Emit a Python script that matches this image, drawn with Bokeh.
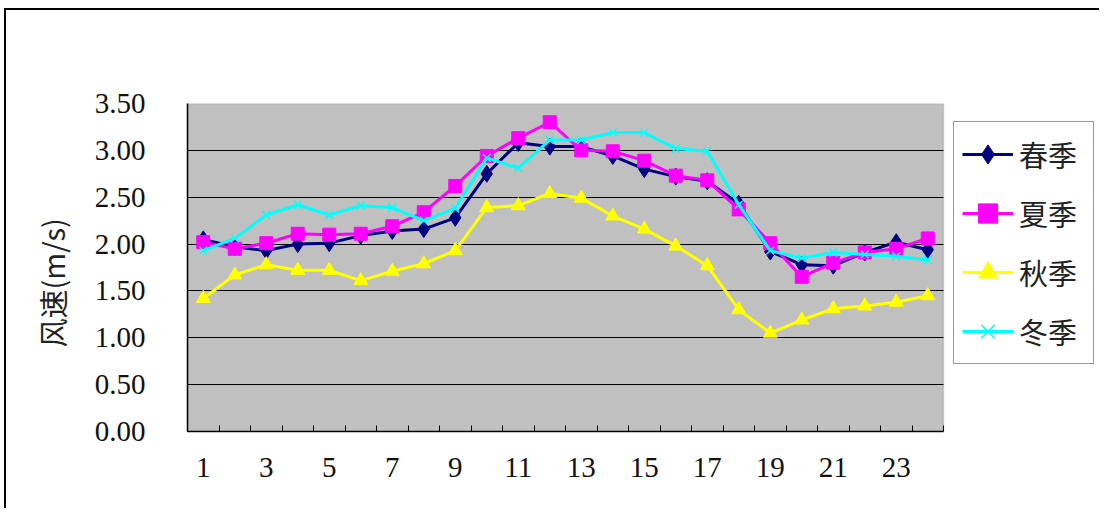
from bokeh.plotting import figure
from bokeh.embed import file_html
from bokeh.resources import INLINE
from bokeh.models import (FixedTicker, Legend, LegendItem, Range1d, NumeralTickFormatter,
                          Title, BoxAnnotation, Grid)

hours = list(range(1, 25))
spring = [2.05, 1.97, 1.93, 2.00, 2.01, 2.09, 2.14, 2.16, 2.28, 2.75, 3.08, 3.04,
          3.04, 2.94, 2.80, 2.72, 2.67, 2.43, 1.92, 1.78, 1.77, 1.91, 2.02, 1.94]
summer = [2.02, 1.95, 2.01, 2.11, 2.10, 2.11, 2.19, 2.34, 2.62, 2.94, 3.13, 3.30,
          3.00, 2.99, 2.89, 2.73, 2.68, 2.37, 2.01, 1.65, 1.80, 1.91, 1.95, 2.06]
autumn = [1.42, 1.67, 1.78, 1.72, 1.72, 1.61, 1.71, 1.79, 1.93, 2.39, 2.41, 2.54,
          2.49, 2.30, 2.16, 1.98, 1.77, 1.30, 1.05, 1.19, 1.31, 1.34, 1.38, 1.45]
winter = [1.93, 2.06, 2.31, 2.42, 2.31, 2.41, 2.39, 2.25, 2.38, 2.92, 2.81, 3.11,
          3.11, 3.19, 3.19, 3.02, 2.99, 2.42, 1.93, 1.85, 1.91, 1.89, 1.87, 1.83]
series_names = ["春季", "夏季", "秋季", "冬季"]
y_ticks = [0, 0.5, 1.0, 1.5, 2.0, 2.5, 3.0, 3.5]
x_label_ticks = [1, 3, 5, 7, 9, 11, 13, 15, 17, 19, 21, 23]
y_title = "风速(m/s)"

# layout (pixels): plot area 756 px wide for 24 categories; the frame extends
# further right so that the legend (drawn inside the frame) is not clipped
W, H = 1095, 500
LEFT, TOP, BOTTOM = 181, 93, 79
AREA_W = 756
frame_w = W - LEFT
x_lo, x_hi = 0.5, 24.5
y_lo, y_hi = y_ticks[0], y_ticks[-1]
x_end = x_lo + frame_w * (x_hi - x_lo) / AREA_W

p = figure(width=W, height=H, output_backend="svg", toolbar_location=None,
           x_range=Range1d(x_lo, x_end), y_range=Range1d(y_lo, y_hi),
           min_border_left=LEFT, min_border_right=0, min_border_top=TOP, min_border_bottom=BOTTOM)
p.styles = {"border-top": "2px solid black", "border-left": "2px solid black",
            "margin-top": "8px", "margin-left": "4px"}

p.background_fill_color = "white"
p.border_fill_color = "white"
p.outline_line_color = None

area = BoxAnnotation(left=x_lo, right=x_hi, bottom=y_lo, top=y_hi, level="image",
                     fill_color="#C0C0C0", fill_alpha=1.0,
                     line_color="#808080", line_width=1.5)
p.add_layout(area)

inner_ticks = y_ticks[1:-1]
p.xgrid.visible = False
if "cross_bounds" in Grid.properties():
    p.ygrid.ticker = FixedTicker(ticks=inner_ticks)
    p.ygrid.grid_line_color = "black"
    p.ygrid.grid_line_width = 1.2
    p.ygrid.cross_bounds = (x_lo, x_hi)
else:
    p.ygrid.visible = False
    p.segment(x0=[x_lo] * len(inner_ticks), y0=inner_ticks,
              x1=[x_hi] * len(inner_ticks), y1=inner_ticks,
              line_color="black", line_width=1.2, level="underlay")

serif = "Liberation Serif"

p.xaxis.ticker = FixedTicker(ticks=x_label_ticks, minor_ticks=[h + 0.5 for h in range(0, 25)])
p.xaxis.bounds = (x_lo, x_hi)
p.xaxis.major_tick_in = 0
p.xaxis.major_tick_out = 0
p.xaxis.minor_tick_in = 6
p.xaxis.minor_tick_out = 0
p.xaxis.minor_tick_line_color = "black"
p.xaxis.axis_line_color = "black"
p.xaxis.axis_line_width = 1.5
p.xaxis.major_label_text_font = serif
p.xaxis.major_label_text_font_size = "29px"
p.xaxis.major_label_text_color = "#111111"
p.xaxis.major_label_standoff = 26

p.yaxis.ticker = FixedTicker(ticks=y_ticks)
p.yaxis.formatter = NumeralTickFormatter(format="0.00")
p.yaxis.major_tick_in = 0
p.yaxis.major_tick_out = 0
p.yaxis.minor_tick_line_color = None
p.yaxis.axis_line_color = "black"
p.yaxis.axis_line_width = 1.5
p.yaxis.major_label_text_font = serif
p.yaxis.major_label_text_font_size = "29px"
p.yaxis.major_label_text_color = "#111111"
p.yaxis.major_label_standoff = 42

title = Title(text=y_title, align="left", offset=84, standoff=38,
              text_font="Noto Sans CJK SC", text_font_size="29px",
              text_font_style="normal", text_color="#222222")
p.add_layout(title, "left")

styles = [
    (spring, "#000080", "diamond", 17),
    (summer, "#FF00FF", "square", 13),
    (autumn, "#FFFF00", "triangle", 14),
    (winter, "#00FFFF", "x", 11),
]
items = []
for name, (vals, color, marker, size) in zip(series_names, styles):
    r1 = p.line(hours, vals, line_color=color, line_width=3)
    if marker == "x":
        r2 = p.scatter(hours, vals, marker=marker, size=size, line_color=color, line_width=1.5)
    else:
        r2 = p.scatter(hours, vals, marker=marker, size=size, fill_color=color, line_color=color)
    items.append(LegendItem(label=name, renderers=[r1, r2]))

legend = Legend(items=items, location=(766, 67))
legend.label_text_font = "Noto Sans CJK SC"
legend.label_text_font_size = "29px"
legend.label_text_color = "#222222"
legend.glyph_width = 51
legend.glyph_height = 48
legend.label_width = 66
legend.spacing = 11
legend.padding = 8
legend.margin = 0
legend.label_standoff = 6
legend.border_line_color = "#333333"
legend.border_line_width = 1.5
legend.background_fill_color = "white"
legend.background_fill_alpha = 1.0
p.add_layout(legend, "center")

open("out.html", "w").write(file_html(p, INLINE))
